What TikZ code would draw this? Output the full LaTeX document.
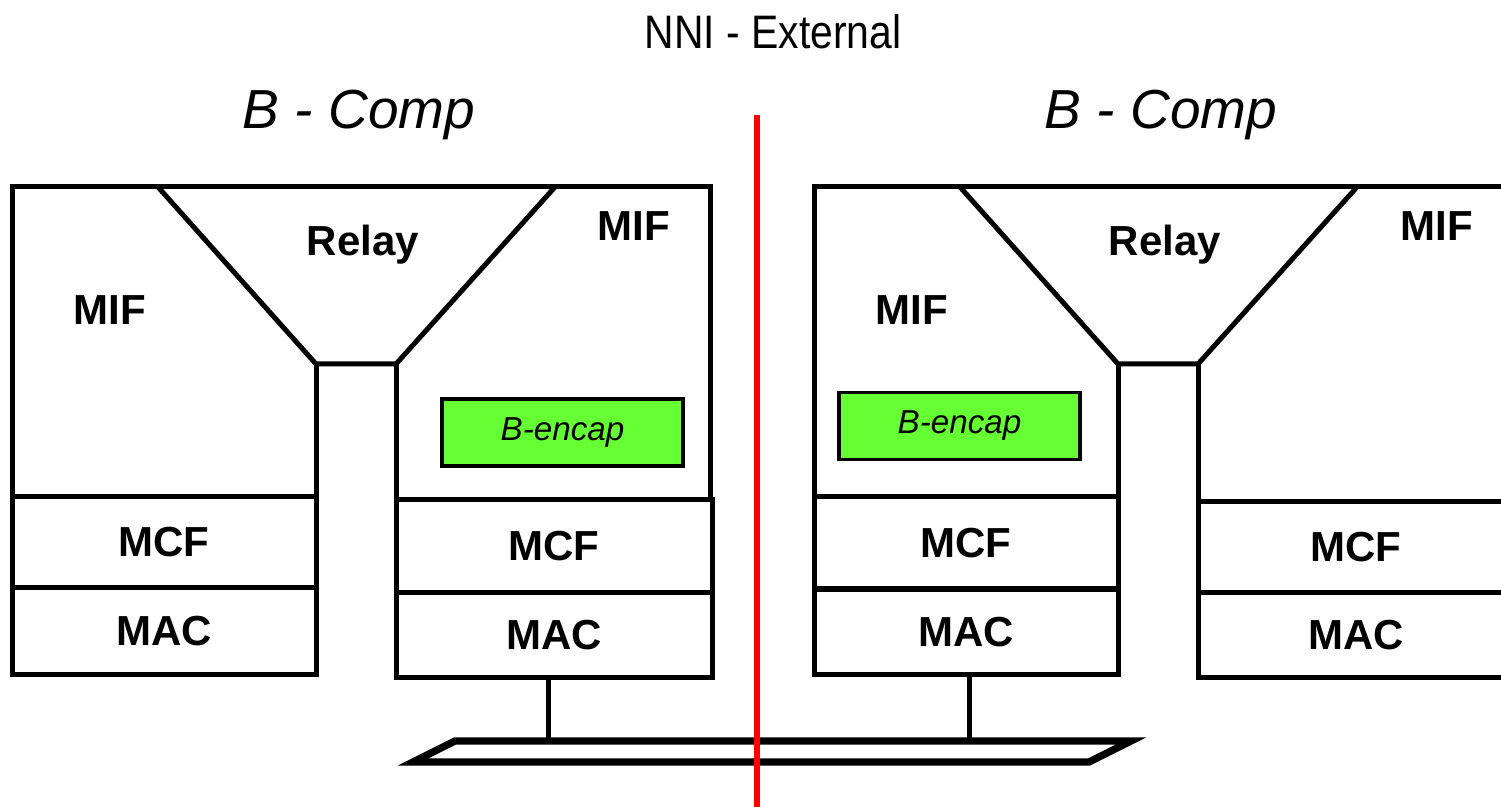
\documentclass[tikz,border=0pt]{standalone}
\usepackage{fontspec}
\setmainfont{Liberation Sans}
\newfontfamily\narrowsans[FakeStretch=0.87]{Liberation Sans}
\usepackage{xcolor}
\usepackage{tikz}
\usetikzlibrary{positioning}

\definecolor{encapgreen}{RGB}{102,255,51}

\begin{document}
\begin{tikzpicture}[x=0.5pt, y=-0.5pt,
    outline/.style={draw, line width=2.5pt},
    layer/.style={rectangle, draw, line width=2.5pt, inner sep=0pt, outer sep=0pt, font=\bfseries\fontsize{21}{21}\selectfont},
    encap/.style={rectangle, draw, line width=1.8pt, fill=encapgreen, inner sep=0pt, minimum width=120.5pt, minimum height=33.5pt, font=\itshape\fontsize{16.6}{16.6}\selectfont},
    lbl/.style={font=\bfseries\fontsize{21}{21}\selectfont},
    comp/.style={font=\itshape\fontsize{27.5}{27.5}\selectfont},
    bus/.style={draw, line width=3.6pt, fill=white},
    nni/.style={draw=red, line width=3pt}]
    \useasboundingbox (0,0) rectangle (1501,807);
    \clip (0,0) rectangle (1501,807);

    % Title
    \node[font=\narrowsans\fontsize{23.5}{23.5}\selectfont] (title) at (773,32) {NNI - External};

    % Left bridge component
    \node[comp] (compA) at (359,115) {B - Comp};
    \draw[outline] (12,497) -- (12,187) -- (710,187) -- (710,500);
    \draw[outline] (158,187) -- (316,364) -- (396,364) -- (555,187);
    \draw[outline] (316,364) -- (316,497);
    \draw[outline] (396,364) -- (396,500);
    \node[lbl] (relayA) at (363,245) {Relay};
    \node[lbl] (mifA1) at (110,310) {MIF};
    \node[lbl] (mifA2) at (634,226) {MIF};
    \node[encap] (encapA) at (562.5,432.5) {B-encap};
    \node[layer, minimum width=152pt, minimum height=45.5pt] (mcfA1) at (164,542.5) {MCF};
    \node[layer, minimum width=152pt, minimum height=43.5pt] (macA1) at (164,631.5) {MAC};
    \node[layer, minimum width=158pt, minimum height=46.5pt] (mcfA2) at (554,546.5) {MCF};
    \node[layer, minimum width=158pt, minimum height=42.5pt] (macA2) at (554,635.5) {MAC};

    % Right bridge component
    \node[comp] (compB) at (1161,115) {B - Comp};
    \draw[outline] (814,497) -- (814,187) -- (1520,187);
    \draw[outline] (960,187) -- (1118,364) -- (1198,364) -- (1357,187);
    \draw[outline] (1118,364) -- (1118,497);
    \draw[outline] (1198,364) -- (1198,502);
    \node[lbl] (relayB) at (1165,245) {Relay};
    \node[lbl] (mifB1) at (912,310) {MIF};
    \node[lbl] (mifB2) at (1437,226) {MIF};
    \node[encap] (encapB) at (959.5,426) {B-encap};
    \node[layer, minimum width=152pt, minimum height=46.5pt] (mcfB1) at (966,543.5) {MCF};
    \node[layer, minimum width=152pt, minimum height=43pt] (macB1) at (966,632) {MAC};
    \node[layer, minimum width=158pt, minimum height=45.5pt] (mcfB2) at (1356,547.5) {MCF};
    \node[layer, minimum width=158pt, minimum height=42.5pt] (macB2) at (1356,635.5) {MAC};

    % Shared LAN
    \coordinate (tapA) at (548,741);
    \coordinate (tapB) at (969,741);
    \draw[outline] (tapA |- macA2.south) -- (tapA);
    \draw[outline] (tapB |- macB1.south) -- (tapB);
    \draw[bus] (413,762) -- (455,741) -- (1131,741) -- (1089,762) -- cycle;

    % Boundary
    \coordinate (nniTop) at (757,115);
    \coordinate (nniBot) at (757,807);
    \draw[nni] (nniTop) -- (nniBot);
\end{tikzpicture}
\end{document}
